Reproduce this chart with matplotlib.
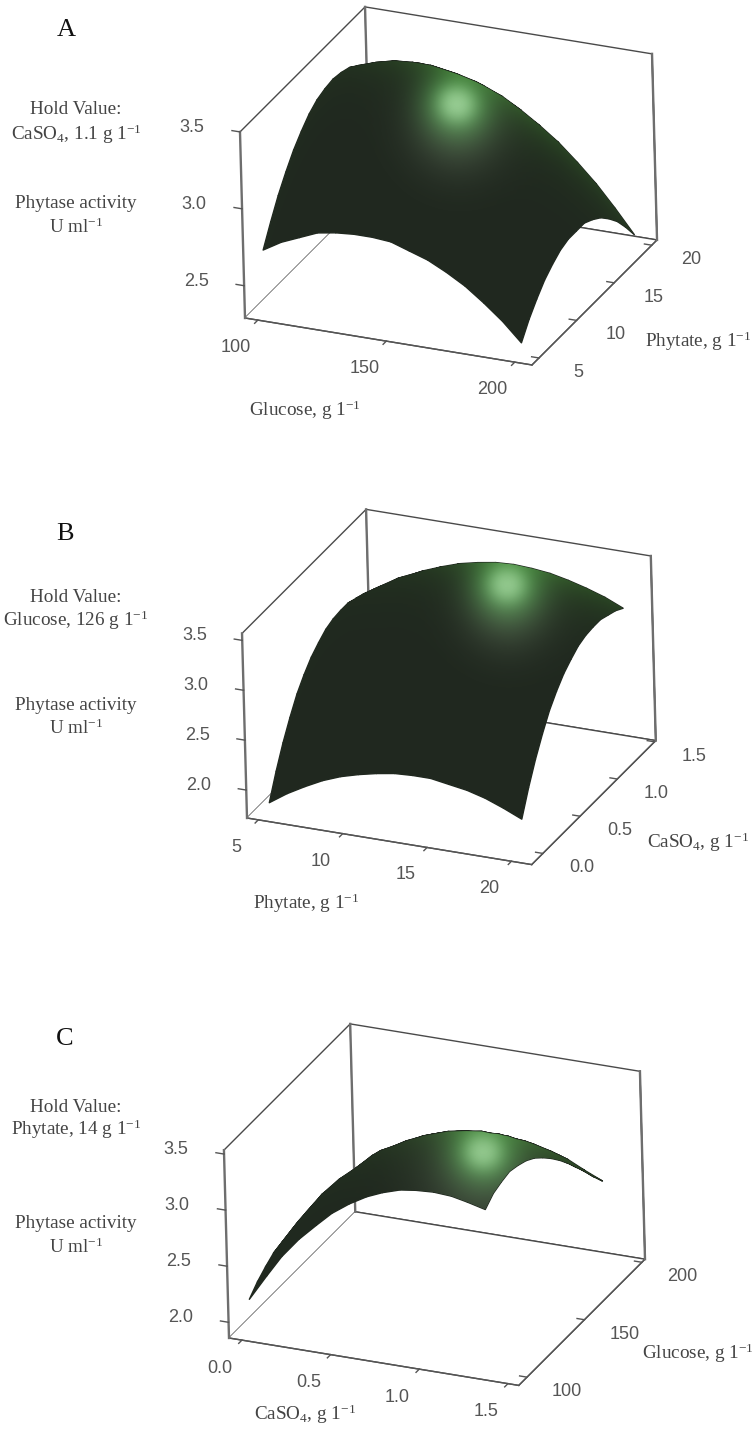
import numpy as np
import matplotlib
matplotlib.use("Agg")
import matplotlib.pyplot as plt
from matplotlib.patches import Polygon
from mpl_toolkits.mplot3d import proj3d

plt.rcParams["font.family"] = "Liberation Serif"
plt.rcParams["mathtext.default"] = "regular"

W, H = 756, 1430
ELEV, AZIM, ROLL = 25.2, -65.8, 1.54
BASE = (0.125, 0.157, 0.122, 1.0)
LINE = "#555555"

GLUCOSE = [100.00, 107.14, 114.29, 121.43, 128.57, 135.71, 142.86, 150.00, 157.14, 164.29, 171.43, 178.57, 185.71, 192.86, 200.00]
PHYTATE = [5.00, 6.07, 7.14, 8.21, 9.29, 10.36, 11.43, 12.50, 13.57, 14.64, 15.71, 16.79, 17.86, 18.93, 20.00]
CASO4_B = [0.00, 0.10, 0.20, 0.30, 0.40, 0.50, 0.60, 0.70, 0.80, 0.90, 1.00, 1.10, 1.20, 1.30, 1.40]
CASO4_C = [0.00, 0.10, 0.19, 0.29, 0.39, 0.48, 0.58, 0.68, 0.77, 0.87, 0.96, 1.06, 1.16, 1.25, 1.35]

# activity: one row per phytate value, one column per glucose value
ACTIVITY_A = [
    [2.70, 2.77, 2.82, 2.87, 2.89, 2.90, 2.90, 2.89, 2.85, 2.81, 2.75, 2.68, 2.59, 2.49, 2.37],
    [2.83, 2.90, 2.95, 2.99, 3.01, 3.02, 3.02, 3.00, 2.97, 2.92, 2.86, 2.78, 2.69, 2.59, 2.47],
    [2.95, 3.01, 3.06, 3.10, 3.12, 3.13, 3.12, 3.10, 3.07, 3.02, 2.95, 2.87, 2.78, 2.67, 2.55],
    [3.05, 3.11, 3.16, 3.20, 3.21, 3.22, 3.21, 3.19, 3.15, 3.10, 3.03, 2.95, 2.85, 2.74, 2.62],
    [3.14, 3.20, 3.24, 3.27, 3.29, 3.29, 3.28, 3.26, 3.21, 3.16, 3.09, 3.01, 2.91, 2.80, 2.67],
    [3.21, 3.27, 3.31, 3.34, 3.35, 3.35, 3.34, 3.31, 3.27, 3.21, 3.14, 3.05, 2.95, 2.84, 2.71],
    [3.27, 3.32, 3.36, 3.39, 3.40, 3.40, 3.38, 3.35, 3.30, 3.24, 3.17, 3.08, 2.98, 2.86, 2.73],
    [3.31, 3.36, 3.40, 3.42, 3.43, 3.42, 3.40, 3.37, 3.32, 3.26, 3.18, 3.09, 2.99, 2.87, 2.73],
    [3.33, 3.38, 3.41, 3.44, 3.44, 3.44, 3.41, 3.38, 3.33, 3.26, 3.18, 3.09, 2.98, 2.86, 2.73],
    [3.34, 3.39, 3.42, 3.44, 3.44, 3.43, 3.41, 3.37, 3.32, 3.25, 3.17, 3.07, 2.96, 2.84, 2.70],
    [3.33, 3.38, 3.41, 3.42, 3.43, 3.41, 3.39, 3.35, 3.29, 3.22, 3.14, 3.04, 2.93, 2.80, 2.66],
    [3.31, 3.35, 3.38, 3.39, 3.39, 3.38, 3.35, 3.31, 3.25, 3.18, 3.09, 2.99, 2.87, 2.75, 2.60],
    [3.27, 3.31, 3.34, 3.35, 3.35, 3.33, 3.30, 3.25, 3.19, 3.12, 3.03, 2.93, 2.81, 2.68, 2.53],
    [3.22, 3.26, 3.28, 3.29, 3.28, 3.26, 3.23, 3.18, 3.12, 3.04, 2.95, 2.84, 2.73, 2.59, 2.44],
    [3.15, 3.19, 3.21, 3.21, 3.20, 3.18, 3.15, 3.10, 3.03, 2.95, 2.86, 2.75, 2.63, 2.49, 2.34],
]

# panel B: one row per CaSO4 value, one column per phytate value
ACTIVITY_B = [
    [1.78, 1.90, 2.00, 2.09, 2.16, 2.21, 2.25, 2.28, 2.29, 2.29, 2.26, 2.23, 2.18, 2.11, 2.03],
    [2.02, 2.14, 2.24, 2.33, 2.40, 2.46, 2.50, 2.52, 2.53, 2.53, 2.51, 2.47, 2.42, 2.35, 2.27],
    [2.23, 2.35, 2.45, 2.54, 2.61, 2.67, 2.71, 2.73, 2.74, 2.74, 2.72, 2.68, 2.63, 2.56, 2.48],
    [2.41, 2.53, 2.63, 2.72, 2.79, 2.85, 2.89, 2.91, 2.92, 2.92, 2.90, 2.86, 2.81, 2.75, 2.66],
    [2.57, 2.68, 2.78, 2.87, 2.94, 3.00, 3.04, 3.07, 3.08, 3.07, 3.05, 3.01, 2.96, 2.90, 2.82],
    [2.69, 2.81, 2.91, 3.00, 3.07, 3.12, 3.16, 3.19, 3.20, 3.20, 3.17, 3.14, 3.09, 3.02, 2.94],
    [2.79, 2.91, 3.01, 3.10, 3.17, 3.22, 3.26, 3.29, 3.30, 3.29, 3.27, 3.24, 3.19, 3.12, 3.04],
    [2.86, 2.98, 3.08, 3.17, 3.24, 3.30, 3.34, 3.36, 3.37, 3.37, 3.35, 3.31, 3.26, 3.20, 3.11],
    [2.92, 3.03, 3.14, 3.22, 3.29, 3.35, 3.39, 3.42, 3.43, 3.42, 3.40, 3.37, 3.32, 3.25, 3.17],
    [2.95, 3.07, 3.17, 3.25, 3.33, 3.38, 3.42, 3.45, 3.46, 3.45, 3.43, 3.40, 3.35, 3.28, 3.20],
    [2.96, 3.08, 3.18, 3.27, 3.34, 3.39, 3.43, 3.46, 3.47, 3.47, 3.45, 3.41, 3.36, 3.29, 3.21],
    [2.96, 3.07, 3.17, 3.26, 3.33, 3.39, 3.43, 3.46, 3.47, 3.46, 3.44, 3.40, 3.35, 3.29, 3.21],
    [2.93, 3.05, 3.15, 3.24, 3.31, 3.37, 3.41, 3.43, 3.44, 3.44, 3.42, 3.38, 3.33, 3.26, 3.18],
    [2.90, 3.01, 3.12, 3.20, 3.27, 3.33, 3.37, 3.40, 3.41, 3.40, 3.38, 3.34, 3.29, 3.23, 3.15],
    [2.85, 2.96, 3.06, 3.15, 3.22, 3.28, 3.32, 3.35, 3.36, 3.35, 3.33, 3.29, 3.24, 3.18, 3.10],
]

# panel C: one row per glucose value, one column per CaSO4 value
ACTIVITY_C = [
    [2.15, 2.38, 2.58, 2.76, 2.91, 3.04, 3.15, 3.24, 3.30, 3.35, 3.37, 3.38, 3.37, 3.34, 3.30],
    [2.23, 2.46, 2.66, 2.83, 2.98, 3.11, 3.22, 3.30, 3.39, 3.43, 3.46, 3.46, 3.45, 3.41, 3.37],
    [2.29, 2.52, 2.71, 2.89, 3.04, 3.17, 3.27, 3.37, 3.45, 3.50, 3.52, 3.53, 3.52, 3.47, 3.40],
    [2.34, 2.56, 2.75, 2.92, 3.07, 3.19, 3.29, 3.39, 3.47, 3.52, 3.54, 3.55, 3.53, 3.48, 3.42],
    [2.36, 2.58, 2.76, 2.93, 3.07, 3.20, 3.30, 3.39, 3.47, 3.51, 3.54, 3.54, 3.52, 3.47, 3.40],
    [2.37, 2.58, 2.77, 2.93, 3.06, 3.19, 3.28, 3.36, 3.44, 3.48, 3.50, 3.51, 3.49, 3.43, 3.37],
    [2.37, 2.57, 2.75, 2.90, 3.04, 3.16, 3.24, 3.32, 3.38, 3.42, 3.44, 3.43, 3.40, 3.37, 3.32],
    [2.36, 2.55, 2.72, 2.87, 3.00, 3.11, 3.20, 3.27, 3.32, 3.36, 3.38, 3.37, 3.34, 3.30, 3.25],
    [2.34, 2.52, 2.69, 2.83, 2.95, 3.05, 3.14, 3.21, 3.26, 3.29, 3.31, 3.30, 3.27, 3.23, 3.17],
    [2.32, 2.50, 2.65, 2.78, 2.90, 3.00, 3.08, 3.13, 3.18, 3.21, 3.22, 3.22, 3.18, 3.14, 3.08],
    [2.30, 2.46, 2.60, 2.73, 2.84, 2.92, 3.01, 3.06, 3.10, 3.12, 3.14, 3.12, 3.09, 3.04, 2.98],
    [2.28, 2.44, 2.56, 2.67, 2.77, 2.86, 2.92, 2.98, 3.01, 3.03, 3.04, 3.03, 2.98, 2.93, 2.87],
    [2.27, 2.40, 2.52, 2.63, 2.71, 2.79, 2.84, 2.89, 2.92, 2.94, 2.95, 2.93, 2.89, 2.82, 2.76],
    [2.26, 2.39, 2.49, 2.57, 2.65, 2.71, 2.76, 2.80, 2.82, 2.84, 2.85, 2.82, 2.78, 2.71, 2.64],
    [2.27, 2.37, 2.46, 2.53, 2.59, 2.64, 2.69, 2.72, 2.73, 2.74, 2.75, 2.72, 2.67, 2.60, 2.53],
]

PANELS = [
    dict(x=GLUCOSE, y=PHYTATE, z=ACTIVITY_A, xlim=(95, 206.7), ylim=(4.07, 20.7), zlim=(2.29, 3.5),
         xt=[100, 150, 200], yt=[5, 10, 15, 20], zt=[2.5, 3.0, 3.5], xf="%d", yf="%d",
         origin=(245, 318), xlen=290.8, glow=(457, 103), haze=32),
    dict(x=PHYTATE, y=CASO4_B, z=ACTIVITY_B, xlim=(4.33, 21.2), ylim=(-.15, 1.517), zlim=(1.72, 3.57),
         xt=[5, 10, 15, 20], yt=[0, .5, 1, 1.5], zt=[2, 2.5, 3, 3.5], xf="%d", yf="%.1f",
         origin=(247, 818), xlen=288.5, glow=(507, 583), haze=30),
    dict(x=CASO4_C, y=GLUCOSE, z=ACTIVITY_C, xlim=(-.073, 1.561), ylim=(92.8, 202.7), zlim=(1.86, 3.535),
         xt=[0, .5, 1, 1.5], yt=[100, 150, 200], zt=[2, 2.5, 3, 3.5], xf="%.1f", yf="%d",
         origin=(229, 1338), xlen=293.6, glow=(483, 1150), haze=42),
]

TEXTS = [
    ("A", 66, 30, 19, "#111111"),
    ("Hold Value:", 76, 110, 13.8, "#444444"),
    ("CaSO$_4$, 1.1 g 1$^{-1}$", 76, 134, 13.8, "#444444"),
    ("Phytase activity", 76, 203, 13.8, "#444444"),
    ("U ml$^{-1}$", 76, 227, 13.8, "#444444"),
    ("Glucose, g 1$^{-1}$", 305, 410, 13.8, "#444444"),
    ("Phytate, g 1$^{-1}$", 698, 341, 13.8, "#444444"),
    ("B", 65, 534, 19, "#111111"),
    ("Hold Value:", 76, 598, 13.8, "#444444"),
    ("Glucose, 126 g 1$^{-1}$", 76, 620, 13.8, "#444444"),
    ("Phytase activity", 76, 706, 13.8, "#444444"),
    ("U ml$^{-1}$", 76, 728, 13.8, "#444444"),
    ("Phytate, g 1$^{-1}$", 306, 903, 13.8, "#444444"),
    ("CaSO$_4$, g 1$^{-1}$", 698, 842, 13.8, "#444444"),
    ("C", 65, 1039, 19, "#111111"),
    ("Hold Value:", 76, 1107, 13.8, "#444444"),
    ("Phytate, 14 g 1$^{-1}$", 76, 1129, 13.8, "#444444"),
    ("Phytase activity", 76, 1223, 13.8, "#444444"),
    ("U ml$^{-1}$", 76, 1247, 13.8, "#444444"),
    ("CaSO$_4$, g 1$^{-1}$", 305, 1414, 13.8, "#444444"),
    ("Glucose, g 1$^{-1}$", 698, 1353, 13.8, "#444444"),
]


def project(ax, x, y, z):
    px, py, _ = proj3d.proj_transform(np.ravel(x), np.ravel(y), np.ravel(z), ax.get_proj())
    d = ax.transData.transform(np.column_stack([px, py]))
    return d[:, 0], H - d[:, 1]


def place_box(ax, p):
    # scale and shift the square 3d axes until the box corner lands where it should
    side = 700.0
    cx, cy = p["origin"][0] + 200.0, p["origin"][1] - 100.0
    rect = lambda: [(cx - side/2)/W, 1 - (cy + side/2)/H, side/W, side/H]
    for _ in range(4):
        ax.set_position(rect())
        xs, ys = project(ax, p["xlim"], [p["ylim"][0]]*2, [p["zlim"][0]]*2)
        side *= p["xlen"] / np.hypot(xs[1]-xs[0], ys[1]-ys[0])
        ax.set_position(rect())
        xs, ys = project(ax, p["xlim"][0], p["ylim"][0], p["zlim"][0])
        cx += p["origin"][0] - xs[0]
        cy += p["origin"][1] - ys[0]
    ax.set_position(rect())


def add_glow(overlay, ax, p, X, Y, Z):
    # the specular spot and the lit ridge, painted over the surface and clipped to its outline
    lines = [project(ax, X[r], Y[r], Z[r]) for r in range(X.shape[0])]
    lines += [project(ax, X[:, c], Y[:, c], Z[:, c]) for c in range(X.shape[1])]
    sx = np.arange(int(min(l[0].min() for l in lines)) + 1, int(max(l[0].max() for l in lines)))
    stack = []
    for lx, ly in lines:
        order = np.argsort(lx)
        stack.append(np.interp(sx, lx[order], ly[order], left=np.nan, right=np.nan))
    stack = np.array(stack)
    top, bot = np.nanmin(stack, axis=0), np.nanmax(stack, axis=0)
    clip = Polygon(np.r_[np.c_[sx, top], np.c_[sx, bot][::-1]], transform=overlay.transData,
                   fc="none", ec="none")
    overlay.add_patch(clip)

    gx, gy = p["glow"]
    y0, y1 = int(top.min()) - 2, int(bot.max()) + 2
    yy, xx = np.mgrid[y0:y1, sx[0]:sx[-1] + 1]
    r2 = (xx-gx)**2 + (yy-gy)**2
    depth = np.clip(yy - top[None, :], 0, None)
    side = np.where(xx < gx, np.exp(-(gx-xx)/55.0), np.exp(-(xx-gx)/120.0))
    a_rim = 0.75 * np.exp(-depth/22.0) * side
    a_core = 0.92*np.exp(-r2/(2*11.0**2))
    a_halo = 0.85*np.exp(-r2/(2*22.0**2))
    a_haze = 0.32*np.exp(-((xx-gx)**2 + (yy-gy-24)**2)/(2.0*p["haze"]**2))
    alpha = 1 - (1-a_core)*(1-a_halo)*(1-a_haze)*(1-a_rim)
    wsum = a_core + a_halo + a_haze + a_rim + 1e-9
    rgb = (a_core[..., None]*np.array([.88, .95, .86]) + a_halo[..., None]*np.array([.36, .76, .36])
           + a_haze[..., None]*np.array([.55, .62, .52]) + a_rim[..., None]*np.array([.24, .50, .18])) / wsum[..., None]
    im = overlay.imshow(np.dstack([rgb, alpha]), extent=(sx[0], sx[-1] + 1, y1, y0),
                        interpolation="bilinear", zorder=5, aspect="auto")
    im.set_clip_path(clip)


def draw_panel(fig, overlay, p):
    ax = fig.add_axes([0, 0, 1, 1], projection="3d")
    ax.patch.set_alpha(0)
    ax.set_proj_type("ortho")
    ax.view_init(elev=ELEV, azim=AZIM, roll=ROLL)
    ax.set_box_aspect((1, 1, 0.657), zoom=1)
    ax.set_xlim(*p["xlim"], view_margin=0)
    ax.set_ylim(*p["ylim"], view_margin=0)
    ax.set_zlim(*p["zlim"], view_margin=0)
    ax.grid(False)
    ax.set_xticks(p["xt"], [""]*len(p["xt"]))
    ax.set_yticks(p["yt"], [""]*len(p["yt"]))
    ax.set_zticks(p["zt"], [""]*len(p["zt"]))
    for axis, inw, out in ((ax.xaxis, .32, 0), (ax.yaxis, 0, .32), (ax.zaxis, 0, 0)):
        axis.pane.set_facecolor("white")
        axis.pane.set_alpha(1)
        axis.pane.set_edgecolor("#4a4a4a")
        axis.pane.set_linewidth(1.0)
        axis.line.set_color(LINE)
        axis.line.set_linewidth(1.0)
        axis._axinfo["tick"].update(inward_factor=inw, outward_factor=out,
                                    linewidth={True: 1.0, False: 1.0})
        axis.set_tick_params(color=LINE, width=1.0)
    place_box(ax, p)

    (x0, x1), (y0, y1), (z0, z1) = p["xlim"], p["ylim"], p["zlim"]
    dx, dy, dz = x1 - x0, y1 - y0, z1 - z0
    # the three uprights of the box are heavier and greyer in the source
    for ux, uy in ((x0, y0), (x0, y1), (x1, y1)):
        ax.plot([ux, ux], [uy, uy], [z0, z1], color="#6e6e6e", lw=1.7, zorder=1)

    # tick labels sit along the box axes, one line of text per tick
    label = dict(ha="center", va="center", color=LINE, fontsize=13, family="Liberation Sans")
    for v in p["xt"]:
        px, py = project(ax, v + .01*dx, y0 - .20*dy, z0 - .012*dz)
        overlay.text(px[0], py[0], p["xf"] % v, **label)
    for v in p["yt"]:
        px, py = project(ax, x1 + .137*dx, v, z0 - .043*dz)
        overlay.text(px[0], py[0], p["yf"] % v, **label)
    for v in p["zt"]:
        ax.plot([x0 - .028*dx, x0], [y0, y0], [v, v], color=LINE, lw=1.0)
        px, py = project(ax, x0 - .167*dx, y0, v - .018*dz)
        overlay.text(px[0], py[0], "%.1f" % v, **label)

    X, Y = np.meshgrid(p["x"], p["y"])
    Z = np.array(p["z"])
    ax.plot_surface(X, Y, Z, facecolors=np.full(X.shape + (4,), BASE), shade=False, linewidth=1.0)
    add_glow(overlay, ax, p, X, Y, Z)


def main():
    fig = plt.figure(figsize=(W/100, H/100), dpi=100, facecolor="white")
    overlay = fig.add_axes([0, 0, 1, 1], zorder=10)
    overlay.axis("off")
    overlay.patch.set_alpha(0)
    for p in PANELS:
        draw_panel(fig, overlay, p)
    overlay.set_xlim(0, W)
    overlay.set_ylim(H, 0)
    for s, x, y, size, col in TEXTS:
        overlay.text(x, y, s, ha="center", va="center", fontsize=size, color=col)
    fig.savefig("out.png", dpi=100, facecolor="white")


if __name__ == "__main__":
    main()
